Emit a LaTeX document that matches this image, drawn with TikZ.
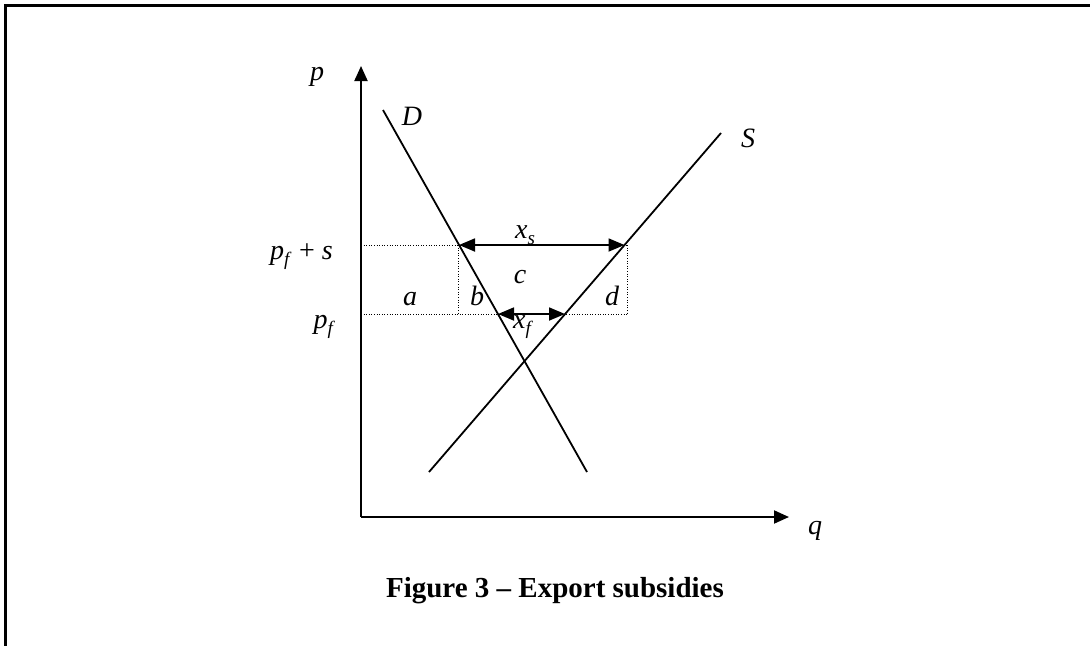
\documentclass[tikz,border=0pt]{standalone}
\usepackage{fontspec}
\setmainfont{Liberation Serif}
\usetikzlibrary{arrows.meta}
\newcommand\mysub[1]{\raisebox{-0.22em}{\fontsize{19}{19}\selectfont #1}}
\begin{document}
\begin{tikzpicture}[x=1pt,y=-1pt,
  lab/.style={font=\fontsize{28}{32}\selectfont\itshape, inner sep=0pt},
  captext/.style={font=\fontsize{29}{33}\selectfont\bfseries, inner sep=0pt},
  axis/.style={line width=2pt, -{Triangle[length=15pt,width=13pt]}},
  curve/.style={line width=1.8pt},
  guide/.style={line width=1pt, dash pattern=on 1pt off 1.6pt},
  dbl/.style={line width=1.8pt, {Triangle[length=16pt,width=13pt]}-{Triangle[length=16pt,width=13pt]}},
  framestyle/.style={line width=2.6pt}]
\useasboundingbox (0,0) rectangle (1090,646);
% frame
\coordinate (fTL) at (5.5,5.5);
\coordinate (fTR) at (1090,5.5);
\coordinate (fBL) at (5.5,646);
\draw[framestyle] (fTR) -- (fTL) -- (fBL);
% axes
\coordinate (O) at (361,517);
\coordinate (ptop) at (361,66);
\coordinate (qend) at (789,517);
\draw[axis] (O) -- (ptop);
\draw[axis] (O) -- (qend);
% demand and supply
\coordinate (D1) at (383,110);
\coordinate (D2) at (587,472);
\coordinate (S1) at (429,472);
\coordinate (S2) at (721,133);
\draw[curve] (D1) -- (D2);
\draw[curve] (S1) -- (S2);
% key points
\coordinate (Dh) at (459,245);
\coordinate (Sh) at (624.5,245);
\coordinate (Dl) at (498,314);
\coordinate (Sl) at (565,314);
\coordinate (Lh) at (361,245);
\coordinate (Ll) at (361,314);
\coordinate (Vh) at (458,245);
\coordinate (Vl) at (458,314);
\coordinate (Rh) at (627,245);
\coordinate (Rl) at (627,314);
% dotted guides
\draw[guide] (Lh) -- (Rh);
\draw[guide] (Ll) -- (Rl);
\draw[guide] (Vh) -- (Vl);
\draw[guide] (Rh) -- (Rl);
% double arrows
\draw[dbl] (Dh) -- (Sh);
\draw[dbl] (Dl) -- (Sl);
% labels
\node[lab, anchor=base] (lp) at (317,80) {p};
\node[lab, anchor=base] (lq) at (815,534) {q};
\node[lab, anchor=base] (lD) at (412,125) {D};
\node[lab, anchor=base] (lS) at (748,147) {S};
\node[lab, anchor=base east] (lpfs) at (333,259) {p\mysub{f}\hspace{0.1em} {\upshape +} s};
\node[lab, anchor=base east] (lpf) at (333,328) {p\mysub{f}};
\node[lab, anchor=base] (lxs) at (525,238) {x\mysub{s}};
\node[lab, anchor=base] (lc) at (520,283) {c};
\node[lab, anchor=base] (la) at (410,305) {a};
\node[lab, anchor=base] (lb) at (477,305) {b};
\node[lab, anchor=base] (ld) at (612,305) {d};
\node[lab, anchor=base] (lxf) at (522,328) {x\mysub{f}};
\node[captext, anchor=base] (caption) at (555,597) {Figure 3 -- Export subsidies};
\end{tikzpicture}
\end{document}
